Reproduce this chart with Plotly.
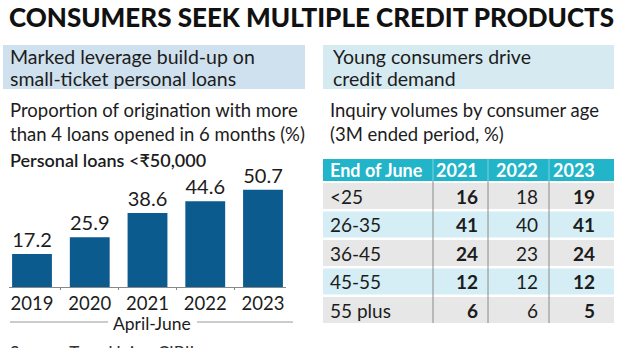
import plotly.graph_objects as go

# ---- data ----
years = ["2019", "2020", "2021", "2022", "2023"]
loan_share = [17.2, 25.9, 38.6, 44.6, 50.7]

table_header = ["End of June", "2021", "2022", "2023"]
age_groups = ["<25", "26-35", "36-45", "45-55", "55 plus"]
inq_2021 = [16, 41, 24, 12, 6]
inq_2022 = [18, 40, 23, 12, 6]
inq_2023 = [19, 41, 24, 12, 5]

W, H = 620, 348
def px(x): return x / W
def py(y): return 1 - y / H

BODY = "Lato, 'Open Sans', sans-serif"
DARK = "#1c1c1c"

fig = go.Figure()
fig.add_trace(go.Bar(
    x=years, y=loan_share,
    text=[f"{v:.1f}" for v in loan_share],
    textposition="outside",
    textfont=dict(family=BODY, size=20, color=DARK),
    marker=dict(color="#0b5b8e", line=dict(width=0)),
    cliponaxis=False, hoverinfo="skip",
))

shapes = []
ann = []

# title
ann.append(dict(text="CONSUMERS SEEK MULTIPLE CREDIT PRODUCTS", x=px(7), y=py(17),
                xref="paper", yref="paper",
                xanchor="left", yanchor="middle", showarrow=False,
                font=dict(family="Lato, sans-serif", size=26, weight=900, color="#111")))

# header boxes
shapes.append(dict(type="rect", xref="paper", yref="paper", x0=px(3), x1=px(305), y0=py(45), y1=py(89),
                   fillcolor="#cfe1ee", line=dict(width=0), layer="below"))
shapes.append(dict(type="rect", xref="paper", yref="paper", x0=px(323), x1=px(614), y0=py(45), y1=py(89),
                   fillcolor="#d6ebf1", line=dict(width=0), layer="below"))

def text(t, x, y, size, color=DARK, weight=400, xanchor="left", yanchor="middle"):
    ann.append(dict(text=t, x=px(x), y=py(y), xref="paper", yref="paper",
                    xanchor=xanchor, yanchor=yanchor, showarrow=False,
                    font=dict(family=BODY, size=size, color=color, weight=weight)))

text("Marked leverage build-up on", 8, 57, 19.5)
text("small-ticket personal loans", 8, 78, 19.5)
text("Young consumers drive", 331, 57, 19.5)
text("credit demand", 331, 78, 19.5)

text("Proportion of origination with more", 8, 110, 18.5)
text("than 4 loans opened in 6 months (%)", 8, 134, 18.5)
text("Personal loans <₹50,000", 8, 160, 18, weight=600)

text("Inquiry volumes by consumer age", 328, 110, 18.5)
text("(3M ended period, %)", 328, 134, 18.5)

# April-June
text("April-June", 152, 323, 17.5, xanchor="center")
for x0, x1 in [(10, 108), (197, 293)]:
    shapes.append(dict(type="line", xref="paper", yref="paper", x0=px(x0), x1=px(x1), y0=py(322), y1=py(322),
                       line=dict(color="#999", width=1)))

text("Source: TransUnion CIBIL", 8, 340, 17, color="#333", yanchor="top")

# ---- table ----
tx0, tx1 = 323, 614
col_sep = [433, 488, 549]
num_right = [480, 540, 597]
hdr_top, hdr_bot = 159, 181
shapes.append(dict(type="rect", xref="paper", yref="paper", x0=px(tx0), x1=px(tx1), y0=py(hdr_bot), y1=py(hdr_top),
                   fillcolor="#22b4c8", line=dict(width=0), layer="below"))
hc = (hdr_top + hdr_bot) / 2
text(table_header[0], 328, hc, 18, color="white", weight=700)
for i, h in enumerate(table_header[1:]):
    text(h, num_right[i], hc, 18, color="white", weight=700, xanchor="right")

row0, pitch, rh = 183, 28.5, 26
cols = [inq_2021, inq_2022, inq_2023]
bold = [700, 400, 700]
for r, g in enumerate(age_groups):
    top = row0 + r * pitch
    fill = "#e7e7e7" if r % 2 == 0 else "#d5edf4"
    shapes.append(dict(type="rect", xref="paper", yref="paper", x0=px(tx0), x1=px(tx1), y0=py(top + rh), y1=py(top),
                       fillcolor=fill, line=dict(width=0), layer="below"))
    c = top + rh / 2
    text(g, 328, c, 19)
    for j, col in enumerate(cols):
        text(str(col[r]), num_right[j], c, 19, weight=bold[j], xanchor="right")

table_bot = row0 + (len(age_groups) - 1) * pitch + rh
for xs in col_sep:
    shapes.append(dict(type="line", xref="paper", yref="paper", x0=px(xs), x1=px(xs), y0=py(hdr_top), y1=py(hdr_bot),
                       line=dict(color="#7fd4df", width=1)))
    shapes.append(dict(type="line", xref="paper", yref="paper", x0=px(xs), x1=px(xs), y0=py(hdr_bot), y1=py(table_bot),
                       line=dict(color="#8a8a8a", width=1)))

fig.update_layout(
    width=W, height=H, margin=dict(l=0, r=0, t=0, b=0),
    paper_bgcolor="white", plot_bgcolor="white",
    showlegend=False, bargap=0.31,
    shapes=shapes, annotations=ann,
    xaxis=dict(type="category", domain=[px(8.9), px(286.1)], range=[-0.4, 4.4],
               showline=True, linecolor="#888", linewidth=1, showgrid=False, zeroline=False,
               ticks="outside", tickson="boundaries", ticklen=2, tickcolor="#888",
               tickfont=dict(family=BODY, size=18.5, color=DARK), fixedrange=True),
    yaxis=dict(domain=[py(287), py(180)], range=[0, 55.73], visible=False, fixedrange=True),
)

fig.write_html("out.html")
